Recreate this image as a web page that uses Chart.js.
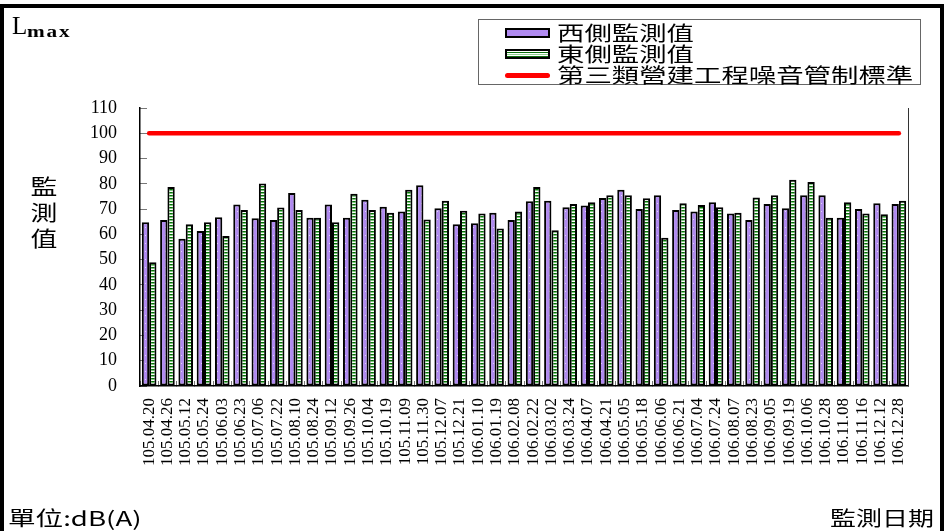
<!DOCTYPE html>
<html>
<head>
<meta charset="utf-8">
<script src="https://cdn.jsdelivr.net/npm/chart.js@4.4.1/dist/chart.umd.min.js"></script>
<style>
html,body{margin:0;padding:0;background:#fff;}
#wrap{position:relative;width:944px;height:531px;overflow:hidden;background:#fff;}
#c{position:absolute;left:0;top:0;}
#frame{position:absolute;left:0;top:4px;width:944px;height:600px;border:4px solid #000;box-sizing:border-box;pointer-events:none;}
.cjk{font-family:"Noto Sans CJK TC","Noto Sans CJK SC",sans-serif;color:#000;position:absolute;white-space:nowrap;transform-origin:0 50%;}
#lmax{position:absolute;left:12px;top:12px;font-family:"Liberation Serif",serif;font-size:25px;color:#000;}
#lmax sub{font-size:17px;font-weight:bold;vertical-align:-3px;letter-spacing:1.5px;display:inline-block;transform:scaleX(1.25);transform-origin:0 50%;}
#legend{position:absolute;left:478px;top:19px;width:443px;height:66px;border:1px solid #666;box-sizing:border-box;background:#fff;}
.sw{position:absolute;left:26px;width:45px;height:10px;border:2px solid #000;box-sizing:border-box;}
.lt{position:absolute;left:78px;font-family:"Noto Sans CJK TC",sans-serif;font-size:20px;line-height:22px;transform:scaleX(1.37);transform-origin:0 50%;white-space:nowrap;}
#ytitle{position:absolute;left:30px;top:172px;width:28px;font-family:"Noto Sans CJK TC",sans-serif;font-size:21px;line-height:26px;text-align:center;}
#ytitle div{transform:scaleX(1.28);}
</style>
</head>
<body>
<div id="wrap">
<canvas id="c" width="944" height="531"></canvas>
<div id="frame"></div>
<div id="lmax">L<sub>max</sub></div>
<div id="legend">
  <div class="sw" style="top:8px;background:#B08AF0;"></div>
  <div class="lt" style="top:2px;">西側監測值</div>
  <div class="sw" style="top:29px;background:repeating-linear-gradient(#fff 0,#fff 1px,#0a6e0a 1px,#0a6e0a 2px,#fff 2px,#fff 3px,#8fd08f 3px,#8fd08f 4px);"></div>
  <div class="lt" style="top:23px;">東側監測值</div>
  <div style="position:absolute;left:26px;top:53px;width:45px;height:5px;border-radius:3px;background:#ff0000;"></div>
  <div class="lt" style="top:44px;">第三類營建工程噪音管制標準</div>
</div>
<div id="ytitle"><div>監</div><div>測</div><div>值</div></div>
<div class="cjk" style="left:8px;top:506px;font-size:20px;line-height:24px;transform:scaleX(1.38);">單位:dB(A)</div>
<div class="cjk" style="left:830px;top:506px;font-size:20px;line-height:24px;transform:scaleX(1.3);">監測日期</div>
</div>
<script>
const labels = ["105.04.20","105.04.26","105.05.12","105.05.24","105.06.03","105.06.23","105.07.06","105.07.22","105.08.10","105.08.24","105.09.12","105.09.26","105.10.04","105.10.19","105.11.09","105.11.30","105.12.07","105.12.21","106.01.10","106.01.19","106.02.08","106.02.22","106.03.02","106.03.24","106.04.07","106.04.21","106.05.05","106.05.18","106.06.06","106.06.21","106.07.04","106.07.24","106.08.07","106.08.23","106.09.05","106.09.19","106.10.06","106.10.28","106.11.08","106.11.16","106.12.12","106.12.28"];
const westValues = [64.8,65.7,58.3,61.3,66.8,71.8,66.4,65.7,76.4,66.6,71.8,66.6,73.7,70.9,69.0,79.4,70.3,64.0,64.4,68.6,65.7,73.1,73.3,70.7,71.4,74.4,77.7,70.0,75.5,69.6,69.0,72.7,68.3,65.7,72.0,70.3,75.5,75.5,66.6,70.0,72.3,72.0];
const eastValues = [49.0,78.7,64.0,64.8,59.4,69.6,80.1,70.6,69.6,66.6,64.8,76.1,69.6,68.6,77.7,65.9,73.3,69.3,68.3,62.3,69.0,78.7,61.6,72.0,72.7,75.5,75.5,74.3,58.7,72.3,71.6,70.7,68.6,74.6,75.5,81.6,80.7,66.6,72.7,68.3,68.0,73.3];
const standardValue = 100;
const standardValues = labels.map(() => standardValue);
const yTicks = [0,10,20,30,40,50,60,70,80,90,100,110];

function makePattern(draw, w, h){
  const cv = document.createElement('canvas'); cv.width = w; cv.height = h;
  const g = cv.getContext('2d'); draw(g);
  return g.createPattern(cv, 'repeat');
}
const purplePat = makePattern(g => {
  g.fillStyle = '#B08AF0'; g.fillRect(0,0,4,8);
  g.fillStyle = 'rgba(255,255,255,0.6)'; g.fillRect(1,3,1,1);
}, 4, 8);
const greenPat = makePattern(g => {
  g.fillStyle = '#ffffff'; g.fillRect(0,0,4,3);
  g.fillStyle = '#067006'; g.fillRect(0,0,4,1);
  g.fillStyle = '#7cc87c'; g.fillRect(0,1,4,1);
}, 4, 3);

const plotBorder = {
  id:'plotBorder',
  afterDraw(chart){
    const {ctx, chartArea:a} = chart;
    ctx.save();
    ctx.strokeStyle = '#333'; ctx.lineWidth = 1;
    ctx.beginPath(); ctx.moveTo(a.right+0.5, a.top); ctx.lineTo(a.right+0.5, a.bottom); ctx.stroke();
    ctx.restore();
  }
};

new Chart(document.getElementById('c'), {
  type:'bar',
  data:{
    labels: labels,
    datasets:[
      {type:'line', label:'第三類營建工程噪音管制標準', data: standardValues, borderColor:'#ff0000', borderWidth:4.5, pointRadius:0, borderCapStyle:'round', order:0},
      {label:'西側監測值', data: westValues, backgroundColor: purplePat, borderColor:'#000', borderWidth:2, borderSkipped:false, categoryPercentage:0.8, barPercentage:1.0, order:1},
      {label:'東側監測值', data: eastValues, backgroundColor: greenPat, borderColor:'#000', borderWidth:2, borderSkipped:false, categoryPercentage:0.8, barPercentage:1.0, order:1}
    ]
  },
  options:{
    responsive:false, animation:false, devicePixelRatio:1,
    layout:{padding:{top:108,left:0,right:36,bottom:0}},
    plugins:{legend:{display:false}, tooltip:{enabled:false}},
    scales:{
      x:{
        afterFit(s){ s.height = 145; },
        grid:{display:true, drawOnChartArea:false, drawTicks:true, tickLength:-5, color:'#777', offset:true},
        border:{display:true, color:'#000', width:1.5},
        ticks:{autoSkip:false, minRotation:90, maxRotation:90, padding:17, color:'#000', font:{family:'"Liberation Serif", serif', size:17}}
      },
      y:{
        min:0, max:110,
        afterFit(s){ s.width = 140; },
        afterBuildTicks(s){ s.ticks = yTicks.map(v => ({value:v})); },
        grid:{display:true, drawOnChartArea:false, drawTicks:true, tickLength:-7, color:'#777'},
        border:{display:true, color:'#000', width:1.5},
        ticks:{padding:30, color:'#000', font:{family:'"Liberation Serif", serif', size:18}}
      }
    }
  },
  plugins:[plotBorder]
});
</script>
</body>
</html>
